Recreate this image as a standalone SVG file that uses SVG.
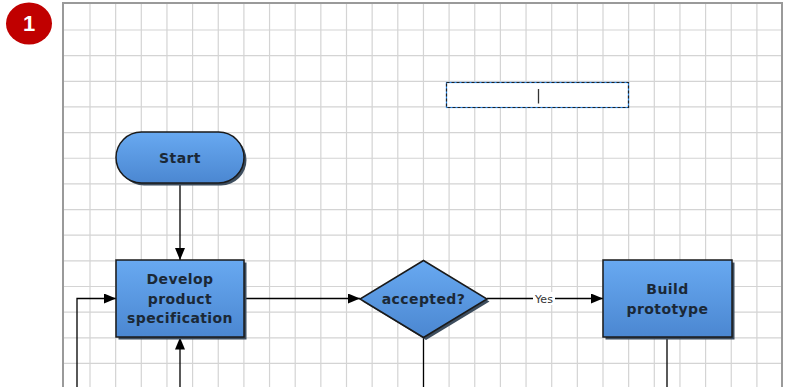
<svg xmlns="http://www.w3.org/2000/svg" width="789" height="387" viewBox="0 0 789 387">
<defs>
<linearGradient id="blue" x1="0" y1="0" x2="0" y2="1">
<stop offset="0" stop-color="#68a9f1"/>
<stop offset="1" stop-color="#4b87d1"/>
</linearGradient>
<marker id="arr" viewBox="0 0 12 10" refX="12" refY="5" markerWidth="12" markerHeight="10" markerUnits="userSpaceOnUse" orient="auto">
<path d="M0 0L12 5L0 10Z" fill="#000"/>
</marker>
</defs>
<style>
.shape{fill:url(#blue);stroke:#1a1a1a;stroke-width:1.5}
.shadow{fill:#3d4d5e}
.lbl{font-family:"DejaVu Sans",Verdana,sans-serif;font-size:14px;font-weight:bold;letter-spacing:0.4px;fill:#1b2836;text-anchor:middle}
.conn{fill:none;stroke:#000;stroke-width:1.3}
.ylbl{font-family:"DejaVu Sans",Verdana,sans-serif;font-size:11px;fill:#333;text-anchor:middle}
.grid{fill:none;stroke:#d4d4d4;stroke-width:1.2}
</style>
<rect width="789" height="387" fill="#fff"/>
<path class="grid" d="M90 3V387M115.65 3V387M141.3 3V387M166.95 3V387M192.6 3V387M218.25 3V387M243.9 3V387M269.55 3V387M295.2 3V387M320.85 3V387M346.5 3V387M372.15 3V387M397.8 3V387M423.45 3V387M449.1 3V387M474.75 3V387M500.4 3V387M526.05 3V387M551.7 3V387M577.35 3V387M603 3V387M628.65 3V387M654.3 3V387M679.95 3V387M705.6 3V387M731.25 3V387M756.9 3V387M63 30H782M63 55.65H782M63 81.3H782M63 106.95H782M63 132.6H782M63 158.25H782M63 183.9H782M63 209.55H782M63 235.2H782M63 260.85H782M63 286.5H782M63 312.15H782M63 337.8H782M63 363.45H782"/>
<path d="M63 390V3H782V390" fill="none" stroke="#9a9a9a" stroke-width="2"/>

<g id="badge">
<ellipse cx="29" cy="23.5" rx="23" ry="21" fill="#c00000"/>
<text x="29" y="31" font-family="Liberation Sans,Arial,sans-serif" font-size="22" font-weight="bold" fill="#fff" text-anchor="middle">1</text>
</g>

<g id="textbox">
<rect x="446.5" y="82.5" width="182" height="25" fill="#fff" stroke="#2a8cf0" stroke-width="1.2"/>
<rect x="446.5" y="82.5" width="182" height="25" fill="none" stroke="#222" stroke-width="1.2" stroke-dasharray="3 2"/>
<line x1="538.5" y1="89" x2="538.5" y2="103.5" stroke="#333" stroke-width="1.3"/>
</g>

<g id="connectors">
<path class="conn" d="M180 183V260" marker-end="url(#arr)"/>
<path class="conn" d="M244 298.5H360" marker-end="url(#arr)"/>
<path class="conn" d="M487 298.5H603" marker-end="url(#arr)"/>
<rect x="533" y="292" width="22" height="13" fill="#fff"/>
<text class="ylbl" x="544" y="302.5">Yes</text>
<path class="conn" d="M77 390V298.5H116" marker-end="url(#arr)"/>
<path class="conn" d="M180 390V337.5" marker-end="url(#arr)"/>
<path class="conn" d="M423.5 337.5V390"/>
<path class="conn" d="M667 337.5V390"/>
</g>

<g id="start">
<rect class="shadow" x="118.5" y="134.5" width="128" height="51" rx="25.5"/>
<rect class="shape" x="116" y="132" width="128" height="51" rx="25.5"/>
<text class="lbl" x="180" y="162.5">Start</text>
</g>

<g id="develop">
<rect class="shadow" x="118.5" y="262.5" width="128" height="77"/>
<rect class="shape" x="116" y="260" width="128" height="77"/>
<text class="lbl" x="180" y="284">Develop</text>
<text class="lbl" x="180" y="303.5">product</text>
<text class="lbl" x="180" y="323">specification</text>
</g>

<g id="accepted">
<path class="shadow" d="M426 263L489.5 301.5L426 340L362.5 301.5Z"/>
<path class="shape" d="M423.5 260.5L487 299L423.5 337.5L360 299Z"/>
<text class="lbl" x="423.5" y="304">accepted?</text>
</g>

<g id="build">
<rect class="shadow" x="605.5" y="262.5" width="129" height="77"/>
<rect class="shape" x="603" y="260" width="129" height="77"/>
<text class="lbl" x="667.5" y="294">Build</text>
<text class="lbl" x="667.5" y="314">prototype</text>
</g>
</svg>
